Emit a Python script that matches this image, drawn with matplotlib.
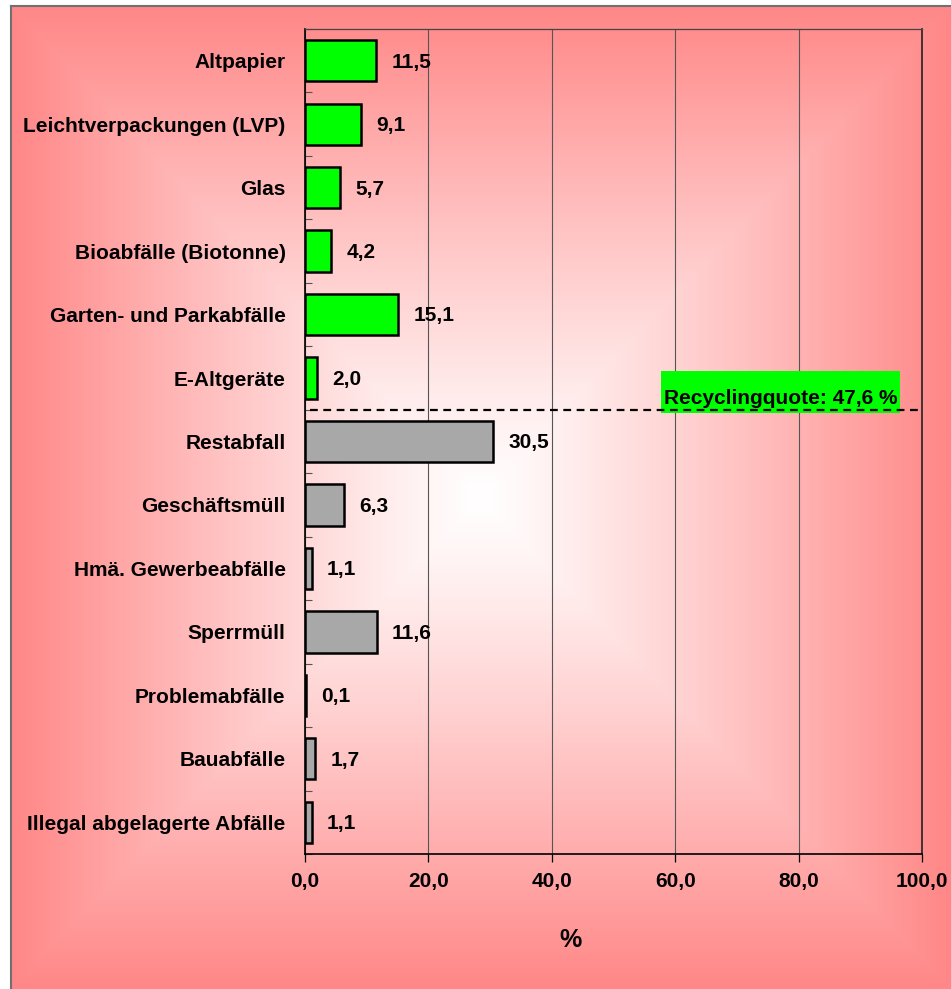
import numpy as np
import matplotlib.pyplot as plt
from matplotlib.patches import Rectangle

plt.rcParams["font.family"] = ["Liberation Sans", "DejaVu Sans"]
plt.rcParams["font.weight"] = "bold"

categories = [
    "Altpapier",
    "Leichtverpackungen (LVP)",
    "Glas",
    "Bioabfälle (Biotonne)",
    "Garten- und Parkabfälle",
    "E-Altgeräte",
    "Restabfall",
    "Geschäftsmüll",
    "Hmä. Gewerbeabfälle",
    "Sperrmüll",
    "Problemabfälle",
    "Bauabfälle",
    "Illegal abgelagerte Abfälle",
]
values = [11.5, 9.1, 5.7, 4.2, 15.1, 2.0, 30.5, 6.3, 1.1, 11.6, 0.1, 1.7, 1.1]
recycled = [True] * 6 + [False] * 7
x_ticks = [0, 20, 40, 60, 80, 100]

GREEN = "#00FF00"
GREY = "#A8A8A8"
EDGE = np.array([255, 135, 135]) / 255.0
FS = 15


def de(v):
    return f"{v:.1f}".replace(".", ",")


W, H, DPI = 951, 989, 100
fig = plt.figure(figsize=(W / DPI, H / DPI), dpi=DPI)
fig.patch.set_facecolor("white")

# rectangular "from center" gradient behind everything
fx0, fy0 = 11, 6
bg = fig.add_axes([fx0 / W, 0, 1 - fx0 / W, 1 - fy0 / H], zorder=0)
ny, nx = 400, 400
yy, xx = np.mgrid[0:1:ny * 1j, 0:1:nx * 1j]
cx, cy = 0.50, 0.50
t = np.maximum(np.abs(xx - cx) / 0.50, np.abs(yy - cy) / 0.50)
t = np.clip(t, 0, 1) ** 1.15
img = (1 - t)[..., None] * np.ones(3) + t[..., None] * EDGE
bg.imshow(img, extent=[0, 1, 0, 1], aspect="auto", origin="lower")
bg.set_xlim(0, 1)
bg.set_ylim(0, 1)
bg.set_xticks([])
bg.set_yticks([])
for side in ["right", "bottom"]:
    bg.spines[side].set_visible(False)
for side in ["left", "top"]:
    bg.spines[side].set_color("#707070")
    bg.spines[side].set_linewidth(1.5)

ax_l, ax_r, ax_t, ax_b = 305, 922, 29, 854
ax = fig.add_axes([ax_l / W, 1 - ax_b / H, (ax_r - ax_l) / W, (ax_b - ax_t) / H], zorder=1)
ax.set_facecolor("none")

pos = np.arange(len(categories))
colors = [GREEN if r else GREY for r in recycled]
ax.barh(pos, values, height=0.65, color=colors, edgecolor="black", linewidth=1.8, zorder=3)

for p, v in zip(pos, values):
    ax.annotate(de(v), xy=(v, p), xytext=(11, -1), textcoords="offset points",
                ha="left", va="center", fontsize=FS, fontweight="bold", zorder=4)

ax.set_xlim(0, 100)
ax.set_ylim(len(categories) - 0.5, -0.5)

ax.set_xticks(x_ticks)
ax.set_xticklabels([de(v) for v in x_ticks], fontsize=FS, fontweight="bold")
ax.set_yticks(pos)
ax.set_yticklabels(categories, fontsize=FS, fontweight="bold")
ax.set_yticks(np.arange(len(categories) + 1) - 0.5, minor=True)
ax.tick_params(axis="y", which="major", length=0, pad=14)
ax.tick_params(axis="y", which="minor", direction="in", length=5, width=0.8, color="#555555")
ax.tick_params(axis="x", which="major", direction="out", length=6, width=0.9, pad=7)

ax.grid(axis="x", color="#555555", linewidth=0.8, zorder=1)
ax.set_axisbelow(True)
for side in ["left", "bottom"]:
    ax.spines[side].set_linewidth(1.2)
    ax.spines[side].set_color("black")
ax.spines["top"].set_color("#444444")
ax.spines["top"].set_linewidth(0.9)
ax.spines["right"].set_color("#222222")
ax.spines["right"].set_linewidth(1.2)

ax.set_xlabel("%", fontsize=18, fontweight="bold")
ax.xaxis.set_label_coords(0.43, -0.104)
ax.xaxis.label.set_va("center")

# recycling share = sum of the green categories
quote = sum(v for v, r in zip(values, recycled) if r)
split = sum(recycled) - 0.5
ax.add_patch(Rectangle((0.577, 0.535), 0.387, 0.050, transform=ax.transAxes,
                       facecolor=GREEN, edgecolor="none", zorder=4))
ax.text(0.7705, 0.545, f"Recyclingquote: {de(quote)} %", transform=ax.transAxes,
        ha="center", va="baseline", fontsize=FS, fontweight="bold", zorder=5)
ax.axhline(split, xmin=0.008, xmax=0.993, color="black", linewidth=1.6,
           linestyle=(0, (3.5, 2.5)), zorder=6)

fig.savefig("out.png", dpi=DPI)
